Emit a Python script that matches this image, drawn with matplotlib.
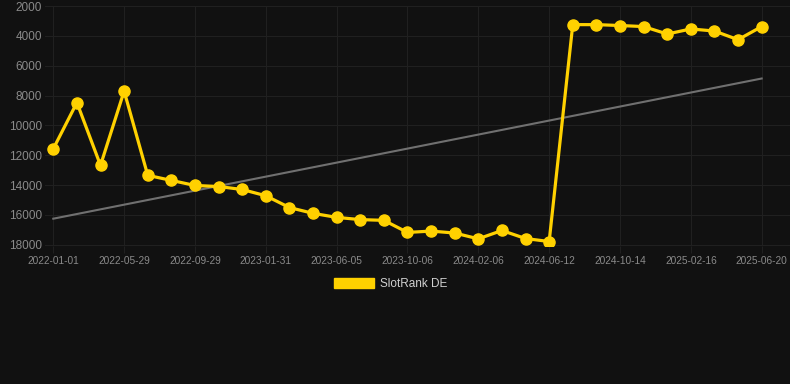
import numpy as np
import matplotlib
matplotlib.use("Agg")
import matplotlib.pyplot as plt
from matplotlib.patches import Patch

# data (rank, lower is better; axis inverted)
tick_labels = ["2022-01-01", "2022-05-29", "2022-09-29", "2023-01-31", "2023-06-05",
               "2023-10-06", "2024-02-06", "2024-06-12", "2024-10-14", "2025-02-16",
               "2025-06-20"]
rank = [11570, 8470, 12680, 7700, 13350, 13690, 14030, 14100, 14300, 14720,
        15510, 15900, 16170, 16320, 16370, 17180, 17090, 17220, 17610, 17050,
        17590, 17790, 3240, 3240, 3300, 3370, 3870, 3530, 3670, 4250, 3370]
y_ticks = [2000, 4000, 6000, 8000, 10000, 12000, 14000, 16000, 18000]

bg = "#111111"
grid_c = "#202020"
yellow = "#FFD100"

plt.rcParams['font.family'] = ['Liberation Sans', 'DejaVu Sans']

fig = plt.figure(figsize=(7.9, 3.84), dpi=100, facecolor=bg)
ax = fig.add_axes([0.057, 0.359, 0.943, 0.625], facecolor=bg)

x = np.arange(len(rank))
coef = np.polyfit(x, rank, 1)
ax.plot(x, np.polyval(coef, x), color="#707070", lw=1.5, zorder=2)
ax.plot(x, rank, color=yellow, lw=2.3, marker="o", markersize=8, zorder=3)

ax.set_xlim(-0.35, 31.2)
ax.set_ylim(18100, 2000)
ax.set_yticks(y_ticks)
ax.set_yticklabels([str(v) for v in y_ticks])
ax.set_xticks(x[::3])
ax.set_xticklabels(tick_labels)

ax.grid(True, color=grid_c, lw=0.8, zorder=0)
for s in ax.spines.values():
    s.set_visible(False)
ax.tick_params(axis="y", length=0, pad=2, labelsize=8.5, labelcolor="#8a8a8a")
ax.tick_params(axis="x", length=5, color=grid_c, pad=2, labelsize=7.3, labelcolor="#8a8a8a")

fig.legend(handles=[Patch(facecolor=yellow, edgecolor=yellow, label="SlotRank DE")],
           loc="center", bbox_to_anchor=(0.494, 0.26), frameon=False,
           handlelength=3.4, handleheight=0.9, handletextpad=0.5,
           fontsize=8.5, labelcolor="#d0d0d0")

fig.savefig("out.png", dpi=100, facecolor=bg)
